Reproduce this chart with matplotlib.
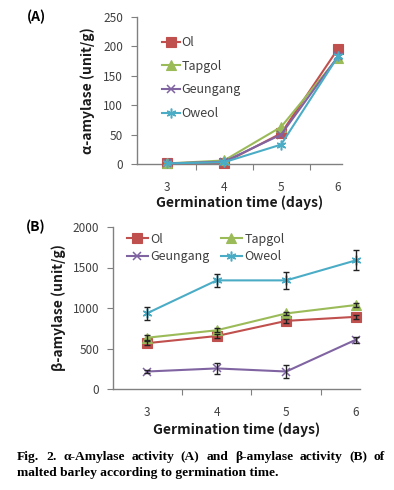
import matplotlib
matplotlib.use("Agg")
import matplotlib.pyplot as plt
import numpy as np

days = [3, 4, 5, 6]
series = ["Ol", "Tapgol", "Geungang", "Oweol"]

alpha_ol = [1, 2, 52, 196]
alpha_tapgol = [1, 6, 63, 181]
alpha_geungang = [1, 4, 50, 183]
alpha_oweol = [1, 3, 33, 183]

beta_ol = [566, 654, 841, 891]
beta_tapgol = [633, 725, 933, 1037]
beta_geungang = [216, 254, 216, 608]
beta_oweol = [935, 1341, 1341, 1588]

beta_ol_err = [25, 25, 25, 25]
beta_tapgol_err = [30, 22, 20, 30]
beta_geungang_err = [15, 73, 80, 40]
beta_oweol_err = [80, 80, 105, 125]

caption_1 = "Fig. 2. α-Amylase activity (A) and β-amylase activity (B) of"
caption_2 = "malted barley according to germination time."

colors = ["#C0504D", "#9BBB59", "#8064A2", "#4BACC6"]
markers = ["s", "^", "x", (6, 2, 0)]
msizes = [6.5, 6.5, 6, 7]

plt.rcParams['font.family'] = ['Noto Sans CJK KR', 'DejaVu Sans']
axis_col = "#808080"
text_col = "#404040"

fig = plt.figure(figsize=(3.94, 4.90), dpi=100)

def style_axes(ax, ymax, ystep, xlim):
    for s in ["top", "right"]:
        ax.spines[s].set_visible(False)
    for s in ["left", "bottom"]:
        ax.spines[s].set_color(axis_col)
        ax.spines[s].set_linewidth(1.0)
    ax.set_ylim(0, ymax)
    ax.set_yticks(np.arange(0, ymax + 1, ystep))
    ax.set_xlim(*xlim)
    ax.set_xticks([3.5, 4.5, 5.5], minor=False)
    ax.set_xticklabels([])
    ax.set_xticks(days, minor=True)
    ax.set_xticklabels([str(d) for d in days], minor=True)
    ax.tick_params(axis='x', which='major', length=4, direction='out', color=axis_col)
    ax.tick_params(axis='x', which='minor', length=0, pad=12, labelsize=8.5, labelcolor=text_col)
    ax.tick_params(axis='y', length=4, direction='out', color=axis_col, labelsize=8.5,
                   labelcolor=text_col, pad=6)

def draw(ax, all_vals, errs=None):
    handles = []
    for i, (name, vals, c, m, ms) in enumerate(zip(series, all_vals, colors, markers, msizes)):
        h, = ax.plot(days, vals, color=c, marker=m, markersize=ms, linewidth=1.5,
                     markeredgewidth=1.1 if (m == "x" or isinstance(m, tuple)) else 0.8,
                     label=name, clip_on=False, zorder=3)
        handles.append(h)
        if errs is not None:
            ax.errorbar(days, vals, yerr=errs[i], fmt='none', ecolor='#222222', elinewidth=1.0,
                        capsize=2.5, capthick=1.0, zorder=4, clip_on=False)
    return handles

# Panel A
axA = fig.add_axes([137/394, 1-164/490, 205/394, 147/490])
hA = draw(axA, [alpha_ol, alpha_tapgol, alpha_geungang, alpha_oweol])
style_axes(axA, 250, 50, (2.47, 6.07))
axA.set_xlabel("Germination time (days)", fontsize=10, fontweight='bold', labelpad=1.5, color="#1a1a1a")
axA.set_ylabel("α-amylase (unit/g)", fontsize=10, fontweight='bold', labelpad=6, color="#1a1a1a")
axA.legend(handles=hA, loc='upper left', bbox_to_anchor=(0.12, 0.87), frameon=False, fontsize=9,
           handlelength=1.5, handletextpad=0.1, labelspacing=0.85, borderaxespad=0, borderpad=0,
           labelcolor=text_col)

# Panel B
axB = fig.add_axes([113/394, 1-389/490, 247/394, 162/490])
hB = draw(axB, [beta_ol, beta_tapgol, beta_geungang, beta_oweol],
          [beta_ol_err, beta_tapgol_err, beta_geungang_err, beta_oweol_err])
style_axes(axB, 2000, 500, (2.51, 6.06))
axB.set_xlabel("Germination time (days)", fontsize=10, fontweight='bold', labelpad=3, color="#1a1a1a")
axB.set_ylabel("β-amylase (unit/g)", fontsize=10, fontweight='bold', labelpad=5, color="#1a1a1a")
order = [0, 2, 1, 3]
axB.legend(handles=[hB[i] for i in order], loc='upper left', bbox_to_anchor=(0.055, 0.965),
           frameon=False, fontsize=9, ncol=2,
           handlelength=1.7, handletextpad=0.2, labelspacing=0.38, columnspacing=0.9,
           borderaxespad=0, borderpad=0, labelcolor=text_col)

fig.text(27/394, 1-17/490, "(A)", fontsize=10, fontweight='bold', va='center', ha='left')
fig.text(26/394, 1-227/490, "(B)", fontsize=10, fontweight='bold', va='center', ha='left')

# caption: line 1 justified between x=17 and x=385 px
cap_font = ['Liberation Serif', 'DejaVu Serif']
cap_size = 9.7
fig.canvas.draw()
renderer = fig.canvas.get_renderer()
words = caption_1.split(" ")
objs = []
total = 0.0
for w in words:
    t = fig.text(0, 1-457/490, w, fontsize=cap_size, fontweight='bold', family=cap_font,
                 va='center', ha='left')
    bb = t.get_window_extent(renderer)
    objs.append((t, bb.width))
    total += bb.width
left_px, right_px = 17, 385
gap = (right_px - left_px - total) / (len(words) - 1)
xpos = left_px
for t, wdt in objs:
    t.set_x(xpos / 394)
    xpos += wdt + gap
fig.text(17/394, 1-473/490, caption_2,
         fontsize=cap_size, fontweight='bold', family=cap_font, va='center', ha='left')

fig.savefig("out.png", dpi=100)
